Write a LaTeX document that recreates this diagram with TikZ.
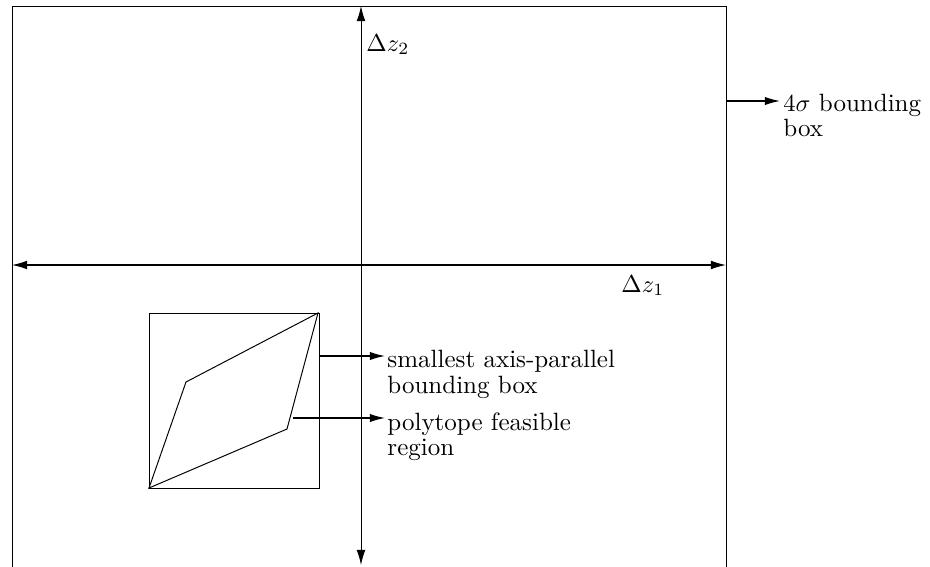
\documentclass[tikz,border=0pt]{standalone}
\usetikzlibrary{arrows.meta}
\begin{document}
\begin{tikzpicture}[x=0.408pt,y=-0.408pt,
  thinline/.style={line width=0.4pt},
  axisline/.style={line width=0.5pt,{Latex[length=6.2pt,width=3.6pt]}-{Latex[length=6.2pt,width=3.6pt]}},
  pointer/.style={line width=0.5pt,-{Latex[length=6.2pt,width=3.4pt]}},
  lbl/.style={anchor=base west,inner sep=0pt,font=\fontsize{10.2}{12}\selectfont}]
\useasboundingbox (0,0) rectangle (930,566);
\clip (0,0) rectangle (930,566);
% outer 4 sigma box (continues below the picture)
\coordinate (oBL) at (12,640);
\coordinate (oTL) at (12,6);
\coordinate (oTR) at (726,6);
\coordinate (oBR) at (726,640);
\draw[thinline] (oBL) -- (oTL) -- (oTR) -- (oBR);
% axes
\coordinate (yTop) at (361,6);
\coordinate (yBot) at (361,565);
\draw[axisline,line width=0.4pt] (yBot) -- (yTop);
\coordinate (xL) at (12,265);
\coordinate (xR) at (726,265);
\draw[axisline] (xL) -- (xR);
\node[lbl] (dz2) at (366,51) {$\Delta z_2$};
\node[lbl] (dz1) at (621,292) {$\Delta z_1$};
% small bounding box
\coordinate (bBL) at (149,488);
\coordinate (bTR) at (319,313);
\draw[thinline] (bBL) rectangle (bTR);
% polytope
\coordinate (p1) at (149,488);
\coordinate (p2) at (186,382);
\coordinate (p3) at (318,313);
\coordinate (p4) at (287,429);
\draw[thinline] (p1) -- (p2) -- (p3) -- (p4) -- cycle;
% labels
\node[lbl] (l3a) at (783,111) {$4\sigma$ bounding};
\node[lbl] (l3b) at (783,136) {box};
\node[lbl] (l1a) at (387,367) {smallest axis-parallel};
\node[lbl] (l1b) at (387,393) {bounding box};
\node[lbl] (l2a) at (387,430) {polytope feasible};
\node[lbl] (l2b) at (387,455) {region};
% pointers
\coordinate (a3s) at (726,101);
\coordinate (a3e) at (780,101);
\draw[pointer] (a3s) -- (a3e);
\coordinate (a1s) at (319,356);
\coordinate (a1e) at (385,356);
\draw[pointer] (a1s) -- (a1e);
\coordinate (a2s) at (293,418);
\coordinate (a2e) at (385,418);
\draw[pointer] (a2s) -- (a2e);
\end{tikzpicture}
\end{document}
